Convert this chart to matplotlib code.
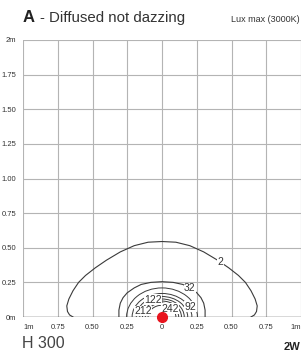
import matplotlib
matplotlib.use("Agg")
import matplotlib.pyplot as plt
from matplotlib.patches import Arc
import numpy as np

plt.rcParams['font.family'] = ['Liberation Sans Narrow', 'Liberation Sans', 'DejaVu Sans']

# lux levels and their iso-lines (metres)
# outer 2 lux line, right half (mirrored for the left side)
iso2_x = [0.00, 0.10, 0.20, 0.30, 0.40, 0.48, 0.55, 0.60, 0.64, 0.67, 0.685, 0.68, 0.665, 0.64]
iso2_y = [0.545, 0.54, 0.515, 0.47, 0.41, 0.355, 0.30, 0.25, 0.19, 0.13, 0.08, 0.04, 0.015, 0.0]
# 32 lux line, right half
iso32_x = [0.00, 0.08, 0.15, 0.20, 0.25, 0.28, 0.30, 0.31, 0.31]
iso32_y = [0.255, 0.25, 0.235, 0.21, 0.175, 0.14, 0.10, 0.05, 0.0]
# inner lines: 62 .. 242 lux as half-ellipses
inner_levels = [62, 92, 122, 152, 182, 212, 242]
inner_halfwidth = [0.255, 0.215, 0.185, 0.16, 0.14, 0.12, 0.10]
inner_height = [0.21, 0.17, 0.148, 0.13, 0.115, 0.10, 0.085]

label_text = ["2", "32", "92", "122", "212", "242"]
label_x = [0.42, 0.20, 0.205, -0.065, -0.135, 0.06]
label_y = [0.40, 0.21, 0.075, 0.125, 0.043, 0.06]

yticks = [0, 0.25, 0.5, 0.75, 1.0, 1.25, 1.5, 1.75, 2.0]
ytick_labels = ["0m", "0.25", "0.50", "0.75", "1.00", "1.25", "1.50", "1.75", "2m"]
xticks = [-1, -0.75, -0.5, -0.25, 0, 0.25, 0.5, 0.75, 1]
xtick_labels = ["1m", "0.75", "0.50", "0.25", "0", "0.25", "0.50", "0.75", "1m"]

line_col = "#3a3a3a"
grid_col = "#b4b4b4"
text_col = "#333333"

fig = plt.figure(figsize=(3.04, 3.56), dpi=100)
ax = fig.add_axes([23 / 304, 1 - 317 / 356, 278 / 304, 277 / 356])
ax.set_xlim(-1, 1)
ax.set_ylim(0, 2)

for v in xticks:
    ax.axvline(v, color=grid_col, lw=0.8, zorder=0)
for v in yticks:
    ax.axhline(v, color=grid_col, lw=0.8, zorder=0)
ax.axhline(0, color="#555555", lw=1.0, zorder=1)
for s in ax.spines.values():
    s.set_visible(False)

ax.set_xticks(xticks)
ax.set_xticklabels(xtick_labels)
ax.set_yticks(yticks)
ax.set_yticklabels(ytick_labels)
ax.tick_params(length=0, labelsize=5.5, labelcolor=text_col, pad=5)
xl = ax.get_xticklabels()
xl[0].set_ha("left")
xl[-1].set_ha("right")

# iso-lines
x2 = np.array(iso2_x)
y2 = np.array(iso2_y)
ax.plot(np.r_[-x2[::-1], x2[1:]], np.r_[y2[::-1], y2[1:]], color=line_col, lw=0.8, zorder=2)
x32 = np.array(iso32_x)
y32 = np.array(iso32_y)
ax.plot(np.r_[-x32[::-1], x32[1:]], np.r_[y32[::-1], y32[1:]], color=line_col, lw=0.8, zorder=2)
for a, b in zip(inner_halfwidth, inner_height):
    ax.add_patch(Arc((0, 0), 2 * a, 2 * b, theta1=0, theta2=180,
                     color=line_col, lw=0.7, zorder=2))

for t, x, y in zip(label_text, label_x, label_y):
    ax.text(x, y, t, fontsize=7.5, color=text_col, ha="center", va="center", zorder=3,
            bbox=dict(facecolor="white", edgecolor="none", pad=0.2))

# luminaire position
ax.plot([0], [0], "o", color="#e8141e", ms=7, clip_on=False, zorder=4)

fig.text(23 / 304, 1 - 18 / 356, "A", fontsize=12, fontweight="bold",
         family=["Liberation Sans", "DejaVu Sans"], color="#222222", va="center", ha="left")
fig.text(40 / 304, 1 - 18 / 356, "- Diffused not dazzing", fontsize=10.8,
         family=["Liberation Sans", "DejaVu Sans"], color="#333333", va="center", ha="left")
fig.text(300 / 304, 1 - 20 / 356, "Lux max (3000K)", fontsize=6.5, color=text_col,
         va="center", ha="right")
fig.text(22 / 304, 1 - 344 / 356, "H 300", fontsize=11.5, color="#444444",
         va="center", ha="left")
fig.text(300 / 304, 1 - 347 / 356, "2W", fontsize=8, fontweight="bold",
         family=["Liberation Sans", "DejaVu Sans"], color="#222222", va="center", ha="right")

fig.savefig("out.png", dpi=100)
